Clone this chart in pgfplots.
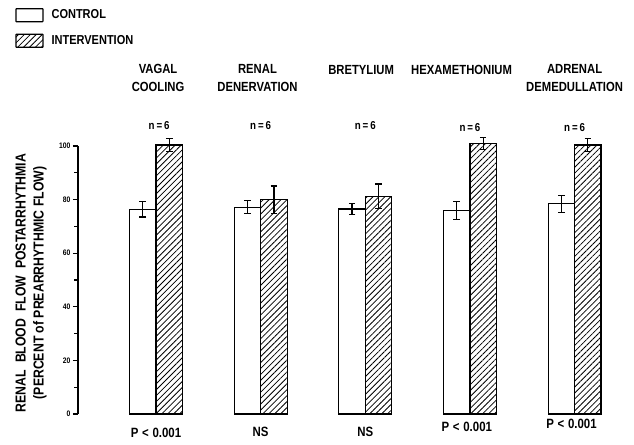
\documentclass[border=0pt]{standalone}
\usepackage{fontspec}
\setmainfont{Liberation Sans}[UprightFont={* Bold}, BoldFont={* Bold}, FakeStretch=0.85]
\usepackage{pgfplots}
\pgfplotsset{compat=1.18}
\usetikzlibrary{patterns.meta}
\pgfplotstableread{
x y e
1 76.4 2.9
2 77.2 2.4
3 76.5 2.0
4 75.9 3.3
5 78.4 3.2
}\control
\pgfplotstableread{
x y e
1 100.4 2.4
2 79.9 5.2
3 81.3 4.5
4 101.0 2.3
5 100.4 2.5
}\interv
\begin{document}
\begin{tikzpicture}
\path[use as bounding box] (0,0) rectangle (634bp,-445bp);
\begin{axis}[
  at={(78bp,-414bp)}, anchor=south west,
  scale only axis, width=528bp, height=268bp,
  xmin=0.255, xmax=5.3, ymin=0, ymax=100,
  axis x line=none, axis y line*=left,
  y axis line style={-, line width=1.2pt},
  ytick={0,20,40,60,80,100},
  minor ytick={10,30,50,70,90},
  tick align=outside,
  major tick length=5bp, minor tick length=4bp,
  every tick/.style={line width=1.2pt, black},
  yticklabel style={font=\fontsize{8}{9}\selectfont, xshift=1bp},
  /pgf/number format/assume math mode=true,
  clip=false,
  ybar, bar width=0.253,
  ylabel={RENAL\ \ BLOOD\ \ FLOW\ \ POSTARRHYTHMIA\\(PERCENT of PREARRHYTHMIC FLOW)},
  ylabel style={at={(axis description cs:-0.089,0.489)}, anchor=center, align=center,
    font=\fontsize{14.5}{18}\selectfont},
  legend style={at={(axis description cs:-0.119,1.516)}, anchor=north west, draw=none, fill=none,
    font=\fontsize{13}{14}\selectfont, row sep=11bp, inner sep=0pt,
    /tikz/every odd column/.append style={column sep=6bp}},
  legend cell align=left,
  legend image code/.code={\draw[#1, line width=1.2pt, rounded corners=0.5pt] (0bp,-6.5bp) rectangle (27bp,6.5bp);},
  error bars/error bar style={line width=1.3pt},
  error bars/error mark options={rotate=90, mark size=3.3bp, line width=1.3pt},
]
\addplot[draw=black, fill=white, line width=1.2pt, bar shift=-0.1265,
  error bars/.cd, y dir=both, y explicit]
  table[x=x, y=y, y error=e] {\control};
\addlegendentry{CONTROL}
\addplot[draw=black, line width=1.2pt, bar shift=0.1265,
  pattern={Lines[angle=45, distance=4.2bp, line width=0.8bp]},
  error bars/.cd, y dir=both, y explicit]
  table[x=x, y=y, y error=e] {\interv};
\addlegendentry{INTERVENTION}
\begin{scope}[every node/.style={font=\fontsize{13.3}{18}\selectfont, align=center}]
\node at (axis cs:1.02,125.3) {VAGAL\\COOLING};
\node at (axis cs:1.97,125.3) {RENAL\\DENERVATION};
\node at (axis cs:2.96,128.4) {BRETYLIUM};
\node at (axis cs:3.92,128.4) {HEXAMETHONIUM};
\node at (axis cs:5.0,125.3) {ADRENAL\\DEMEDULLATION};
\end{scope}
\begin{scope}[every node/.style={font=\fontsize{11.5}{17}\selectfont, align=center}]
\node at (axis cs:1.03,107.5) {n\,=\,6};
\node at (axis cs:2.0,107.8) {n\,=\,6};
\node at (axis cs:3.0,107.5) {n\,=\,6};
\node at (axis cs:4.0,106.8) {n\,=\,6};
\node at (axis cs:5.0,106.8) {n\,=\,6};
\end{scope}
\begin{scope}[every node/.style={font=\fontsize{13.5}{16}\selectfont, align=center}]
\node at (axis cs:1.0,-7.0) {P\;<\;0.001};
\node at (axis cs:2.0,-6.7) {NS};
\node at (axis cs:3.0,-6.7) {NS};
\node at (axis cs:3.97,-4.8) {P\;<\;0.001};
\node at (axis cs:4.97,-3.8) {P\;<\;0.001};
\end{scope}
\end{axis}
\end{tikzpicture}
\end{document}
